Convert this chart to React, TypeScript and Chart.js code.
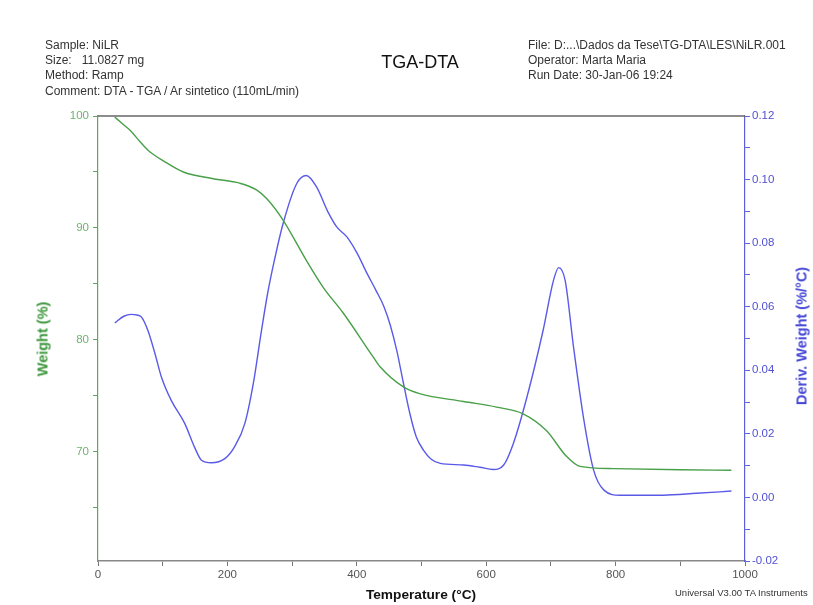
import React, { useEffect, useRef } from "react";
import { Chart, registerables } from "chart.js";

Chart.register(...registerables);

// TGA: temperature (°C) vs weight (%)
const tgaTemp = [26, 40, 50, 65, 80, 101, 132, 178, 219, 245, 261, 286, 322, 348, 379, 425, 436, 472, 497, 565, 616, 657, 693, 724, 745, 797, 900, 979];
const tgaWeight = [99.9, 99.2, 98.7, 97.7, 96.8, 96.0, 95.0, 94.4, 94.0, 93.4, 92.6, 90.7, 87.1, 84.7, 82.4, 78.5, 77.6, 75.8, 75.2, 74.5, 74.0, 73.4, 71.9, 69.6, 68.7, 68.5, 68.4, 68.35];

// DTG: temperature (°C) vs derivative weight (%/°C)
const dtgTemp = [26, 40, 51, 60, 67, 77, 88, 98, 113, 134, 149, 160, 175, 196, 211, 227, 240, 252, 262, 272, 286, 307, 322, 338, 355, 369, 385, 400, 416, 430, 442, 452, 462, 472, 482, 492, 503, 515, 529, 565, 590, 611, 627, 642, 663, 688, 704, 712, 722, 735, 751, 766, 782, 807, 874, 925, 979];
const dtgDeriv = [0.0549, 0.057, 0.0576, 0.0574, 0.0568, 0.0526, 0.0453, 0.0379, 0.0306, 0.0233, 0.0159, 0.0117, 0.0109, 0.0122, 0.0159, 0.0233, 0.0358, 0.0516, 0.064, 0.074, 0.0861, 0.0987, 0.1013, 0.0976, 0.09, 0.0851, 0.0819, 0.077, 0.0704, 0.065, 0.06, 0.054, 0.046, 0.036, 0.0264, 0.019, 0.0149, 0.012, 0.0107, 0.0102, 0.0095, 0.0088, 0.0102, 0.017, 0.0316, 0.0526, 0.0683, 0.0723, 0.0683, 0.0473, 0.0243, 0.0086, 0.0023, 0.0007, 0.0007, 0.0013, 0.002];

const xTicks = [0, 100, 200, 300, 400, 500, 600, 700, 800, 900, 1000];
const weightTicks = [65, 70, 75, 80, 85, 90, 95, 100];
const derivTicks = [-0.02, -0.01, 0, 0.01, 0.02, 0.03, 0.04, 0.05, 0.06, 0.07, 0.08, 0.09, 0.1, 0.11, 0.12];

const GREEN = "rgb(72,160,72)";
const GREEN_AXIS = "rgb(95,165,95)";
const GREEN_TEXT = "rgb(110,180,110)";
const BLUE = "rgb(90,90,232)";
const BLUE_AXIS = "rgb(95,95,215)";
const BLUE_TEXT = "rgb(80,80,210)";
const FONT = "'Liberation Sans', Arial, sans-serif";

const frameTop = {
  id: "frameTop",
  afterDraw(chart: any) {
    const { ctx, chartArea } = chart;
    ctx.save();
    ctx.strokeStyle = "#666";
    ctx.lineWidth = 1.5;
    ctx.beginPath();
    ctx.moveTo(chartArea.left, chartArea.top);
    ctx.lineTo(chartArea.right, chartArea.top);
    ctx.stroke();
    ctx.restore();
  },
};

export default function App() {
  const ref = useRef<HTMLCanvasElement | null>(null);

  useEffect(() => {
    if (!ref.current) return;
    const chart = new Chart(ref.current, {
      type: "scatter",
      data: {
        datasets: [
          {
            label: "Weight",
            data: tgaTemp.map((t, i) => ({ x: t, y: tgaWeight[i] })),
            yAxisID: "yW",
            showLine: true,
            borderColor: GREEN,
            borderWidth: 1.4,
            pointRadius: 0,
            cubicInterpolationMode: "monotone",
          },
          {
            label: "Deriv",
            data: dtgTemp.map((t, i) => ({ x: t, y: dtgDeriv[i] })),
            yAxisID: "yD",
            showLine: true,
            borderColor: BLUE,
            borderWidth: 1.4,
            pointRadius: 0,
            cubicInterpolationMode: "monotone",
          },
        ],
      },
      options: {
        animation: false,
        responsive: false,
        layout: { padding: { top: 116, left: 0, right: 0, bottom: 0 } },
        plugins: { legend: { display: false }, tooltip: { enabled: false } },
        scales: {
          x: {
            type: "linear",
            min: 0,
            max: 1000,
            afterBuildTicks: (s: any) => {
              s.ticks = xTicks.map((v) => ({ value: v }));
            },
            afterFit: (s: any) => {
              s.height = 44;
            },
            ticks: {
              color: "#555",
              font: { family: FONT, size: 11.5 },
              padding: 2,
              maxRotation: 0,
              autoSkip: false,
              callback: (v: any) => (Number(v) % 200 === 0 ? String(v) : ""),
            },
            grid: { drawOnChartArea: false, drawTicks: true, tickLength: 5, color: "#777" },
            border: { display: true, color: "#888", width: 1.5 },
          },
          yW: {
            type: "linear",
            position: "left",
            min: 60.25,
            max: 100,
            afterBuildTicks: (s: any) => {
              s.ticks = weightTicks.map((v) => ({ value: v }));
            },
            afterFit: (s: any) => {
              s.width = 98;
            },
            ticks: {
              color: GREEN_TEXT,
              font: { family: FONT, size: 11.5 },
              padding: 4,
              autoSkip: false,
              callback: (v: any) => (Number(v) % 10 === 0 ? String(v) : ""),
            },
            grid: { drawOnChartArea: false, drawTicks: true, tickLength: 5, color: GREEN_AXIS },
            border: { display: true, color: GREEN_AXIS, width: 1.2 },
          },
          yD: {
            type: "linear",
            position: "right",
            min: -0.02,
            max: 0.12,
            afterBuildTicks: (s: any) => {
              s.ticks = derivTicks.map((v) => ({ value: v }));
            },
            afterFit: (s: any) => {
              s.width = 68;
            },
            ticks: {
              color: BLUE_TEXT,
              font: { family: FONT, size: 11.5 },
              padding: 2,
              autoSkip: false,
              callback: (v: any, i: number) => (i % 2 === 0 ? Number(v).toFixed(2) : ""),
            },
            grid: { drawOnChartArea: false, drawTicks: true, tickLength: 5, color: BLUE_AXIS },
            border: { display: true, color: BLUE_AXIS, width: 1.2 },
          },
        },
      } as any,
      plugins: [frameTop],
    });
    return () => chart.destroy();
  }, []);

  const base: React.CSSProperties = {
    position: "absolute",
    fontFamily: FONT,
    whiteSpace: "nowrap",
    color: "#333",
  };

  return (
    <div style={{ position: "fixed", left: 0, top: 0, width: 813, height: 605, background: "#fff" }}>
      <canvas ref={ref} width={813} height={605} style={{ position: "absolute", left: 0, top: 0, width: 813, height: 605 }} />
      <div style={{ ...base, left: 45, top: 38, fontSize: 12, lineHeight: "15.2px" }}>
        <div>Sample: NiLR</div>
        <div>Size:&nbsp;&nbsp;&nbsp;11.0827 mg</div>
        <div>Method: Ramp</div>
        <div>Comment: DTA - TGA / Ar sintetico (110mL/min)</div>
      </div>
      <div style={{ ...base, left: 420, top: 53, fontSize: 18, lineHeight: "18px", transform: "translateX(-50%)", color: "#111" }}>
        TGA-DTA
      </div>
      <div style={{ ...base, left: 528, top: 38, fontSize: 12, lineHeight: "15.2px" }}>
        <div>File: D:...\Dados da Tese\TG-DTA\LES\NiLR.001</div>
        <div>Operator: Marta Maria</div>
        <div>Run Date: 30-Jan-06 19:24</div>
      </div>
      <div style={{ ...base, left: 421, top: 595, fontSize: 13.7, fontWeight: "bold", lineHeight: "14px", transform: "translate(-50%,-50%)", color: "#111" }}>
        Temperature (°C)
      </div>
      <div style={{ ...base, left: 675, top: 588, fontSize: 9.5, lineHeight: "10px", color: "#333" }}>
        Universal V3.00 TA Instruments
      </div>
      <div style={{ ...base, left: 43, top: 339, fontSize: 14.5, fontWeight: "bold", lineHeight: "15px", transform: "translate(-50%,-50%) rotate(-90deg)", color: "rgb(60,150,60)" }}>
        Weight (%)
      </div>
      <div style={{ ...base, left: 802, top: 336, fontSize: 14.5, fontWeight: "bold", lineHeight: "15px", transform: "translate(-50%,-50%) rotate(-90deg)", color: "rgb(70,70,215)" }}>
        Deriv. Weight (%/°C)
      </div>
    </div>
  );
}
